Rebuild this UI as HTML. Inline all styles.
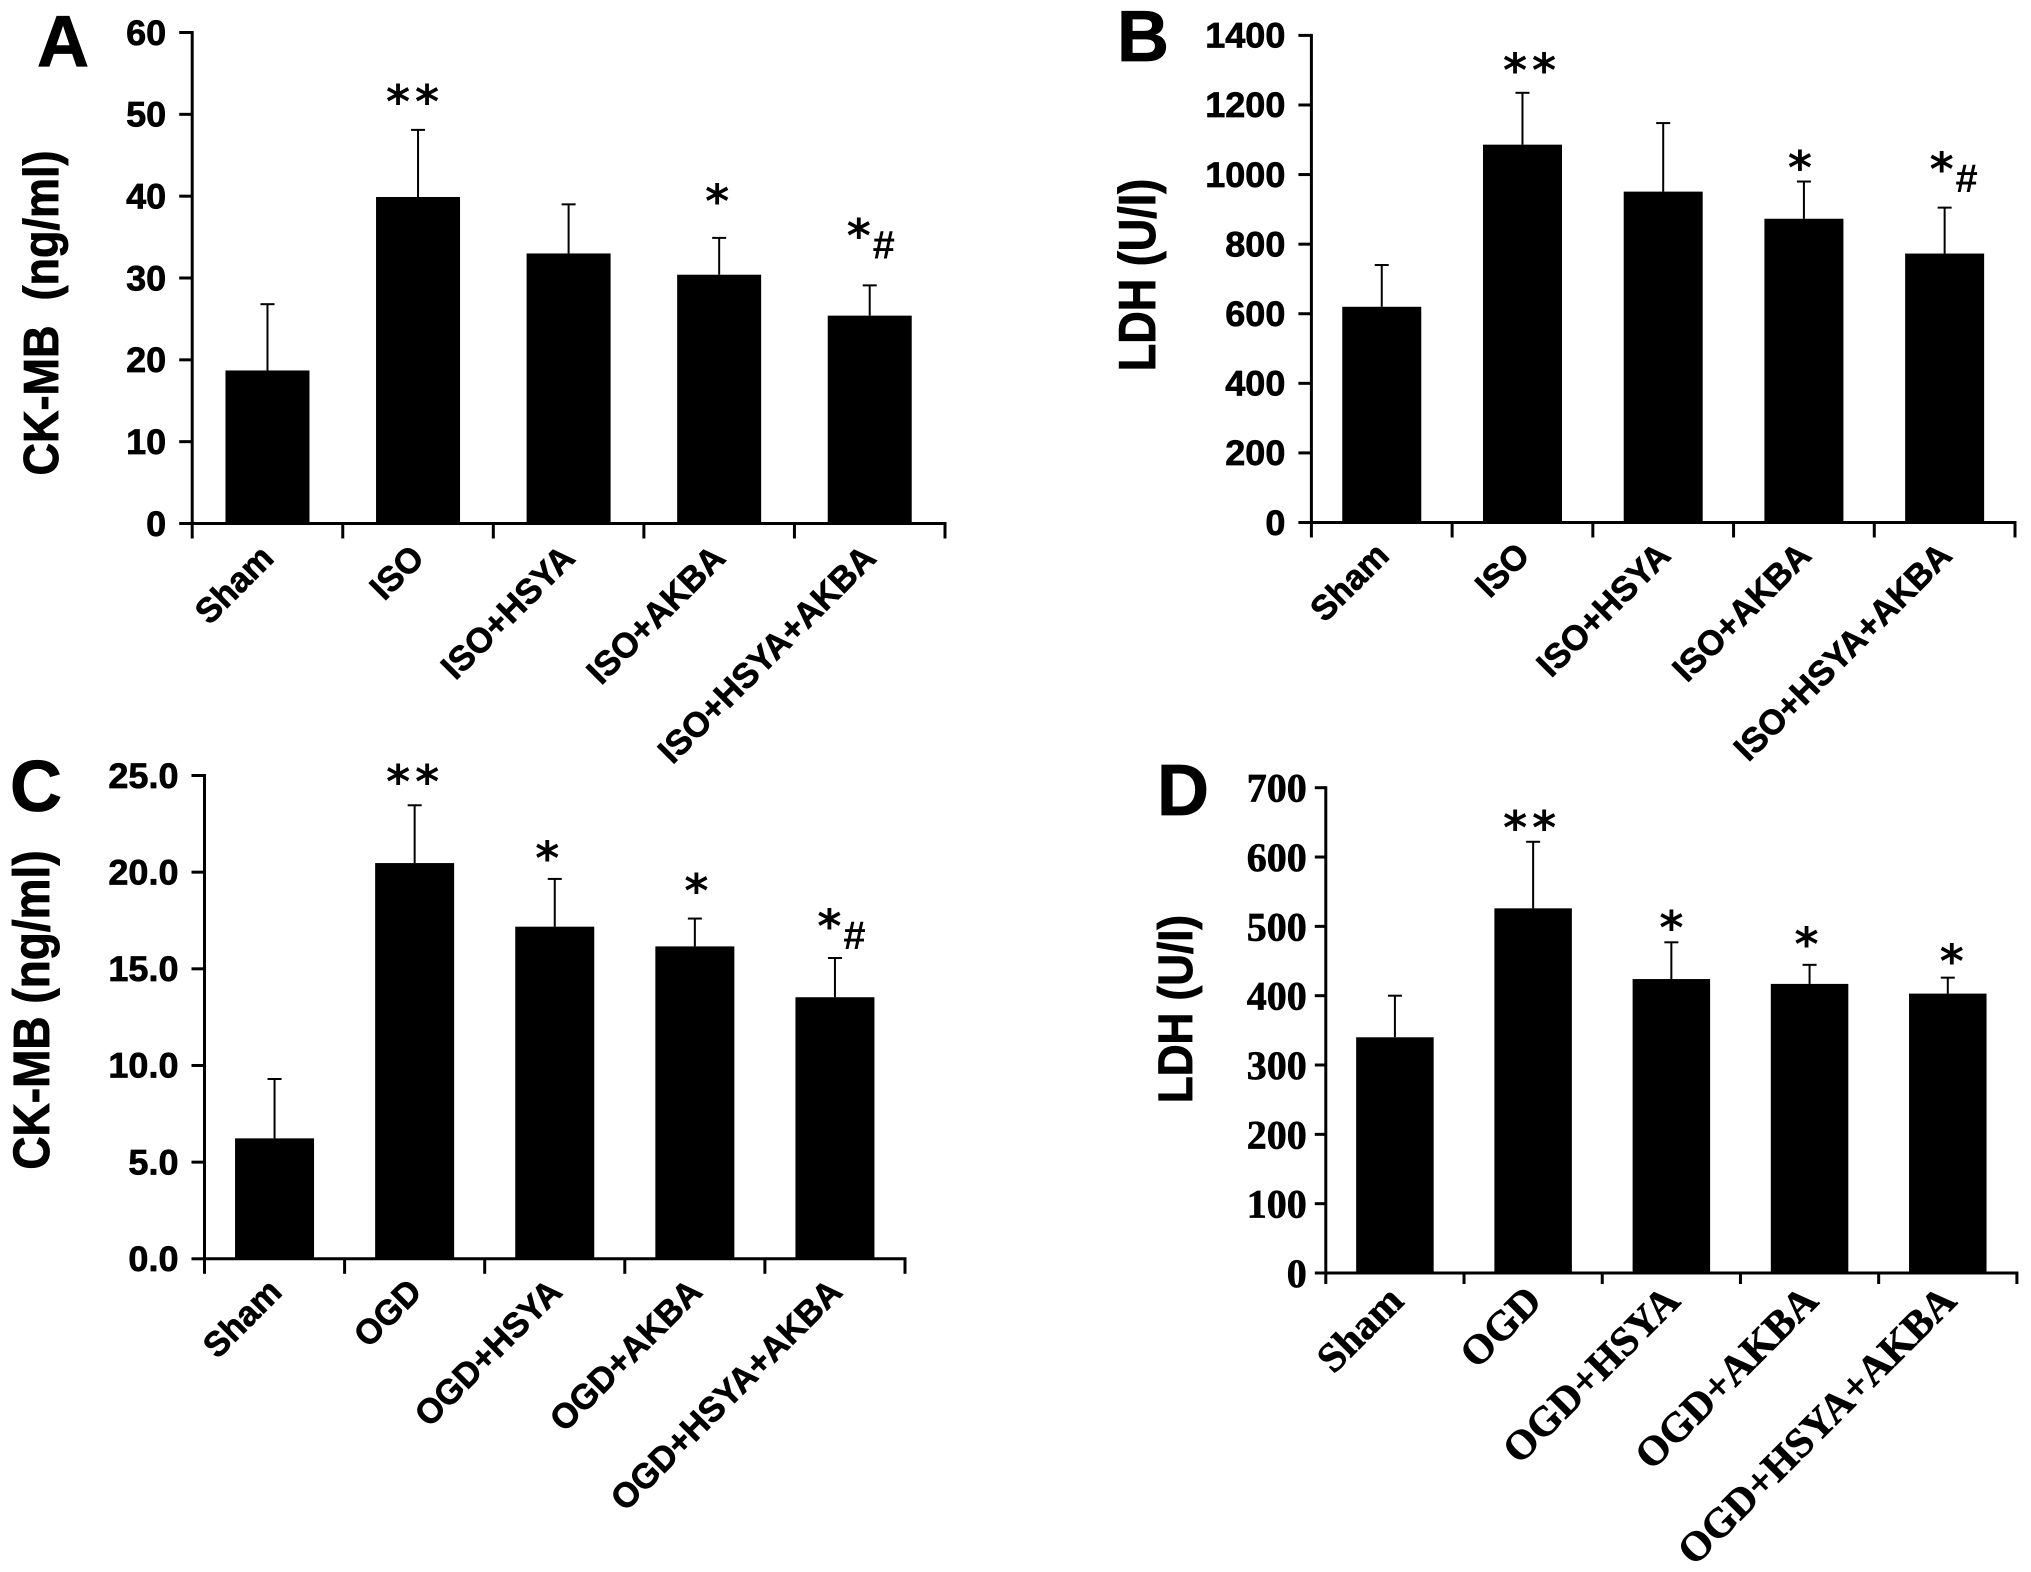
<!DOCTYPE html>
<html lang="en">
<head>
<meta charset="utf-8">
<title>CK-MB and LDH levels</title>
<style>
html,body{margin:0;padding:0;background:#fff;}
svg{display:block;}
.title{font-family:"Liberation Sans",sans-serif;font-weight:700;fill:#000;stroke:#000;stroke-width:0.8px;}
.letter{font-family:"Liberation Sans",sans-serif;font-weight:700;font-size:72px;fill:#000;stroke:#000;stroke-width:0.8px;}
</style>
</head>
<body>
<svg id="figure" xmlns="http://www.w3.org/2000/svg" width="2031" height="1572" viewBox="0 0 2031 1572">
  <rect x="0" y="0" width="2031" height="1572" fill="#fff"/>
  <text class="letter" x="37" y="66">A</text>
  <text class="letter" x="1117" y="61">B</text>
  <text class="letter" x="10" y="811">C</text>
  <text class="letter" x="1157" y="815">D</text>
  <text class="title" font-size="45" text-anchor="middle" xml:space="preserve" transform="translate(58,313) rotate(-90) scale(1,1.1)">CK-MB&#160;&#160;(ng/ml)</text>
  <text class="title" font-size="45" text-anchor="middle" transform="translate(1155,275) rotate(-90) scale(1,1.15)">LDH (U/I)</text>
  <text class="title" font-size="46" text-anchor="middle" transform="translate(49,1010) rotate(-90) scale(1,1.1)">CK-MB (ng/ml)</text>
  <text class="title" font-size="44" text-anchor="middle" transform="translate(1192,1009) rotate(-90) scale(1,1.1)">LDH (U/I)</text>
</svg>
<script>
// Panel A data
const categoriesA = ['Sham', 'ISO', 'ISO+HSYA', 'ISO+AKBA', 'ISO+HSYA+AKBA'];
const meansA = [18.7, 39.9, 33, 30.4, 25.4];
const upperA = [26.8, 48.1, 39, 34.9, 29.1];
const ticksA = [0, 10, 20, 30, 40, 50, 60];
const tickLabelsA = ['0', '10', '20', '30', '40', '50', '60'];
const marksA = ['', '**', '', '*', '*#'];

// Panel B data
const categoriesB = ['Sham', 'ISO', 'ISO+HSYA', 'ISO+AKBA', 'ISO+HSYA+AKBA'];
const meansB = [620, 1086, 951, 873, 773];
const upperB = [740, 1235, 1148, 980, 905];
const ticksB = [0, 200, 400, 600, 800, 1000, 1200, 1400];
const tickLabelsB = ['0', '200', '400', '600', '800', '1000', '1200', '1400'];
const marksB = ['', '**', '', '*', '*#'];

// Panel C data
const categoriesC = ['Sham', 'OGD', 'OGD+HSYA', 'OGD+AKBA', 'OGD+HSYA+AKBA'];
const meansC = [6.23, 20.47, 17.18, 16.16, 13.53];
const upperC = [9.3, 23.46, 19.65, 17.6, 15.56];
const ticksC = [0, 5, 10, 15, 20, 25];
const tickLabelsC = ['0.0', '5.0', '10.0', '15.0', '20.0', '25.0'];
const marksC = ['', '**', '*', '*', '*#'];

// Panel D data
const categoriesD = ['Sham', 'OGD', 'OGD+HSYA', 'OGD+AKBA', 'OGD+HSYA+AKBA'];
const meansD = [340, 526, 424, 417, 403];
const upperD = [400, 622, 477, 444.5, 426];
const ticksD = [0, 100, 200, 300, 400, 500, 600, 700];
const tickLabelsD = ['0', '100', '200', '300', '400', '500', '600', '700'];
const marksD = ['', '**', '*', '*', '*'];

const NS = 'http://www.w3.org/2000/svg';
const figure = document.getElementById('figure');

function make(tag, attrs, parent) {
  const node = document.createElementNS(NS, tag);
  for (const k in attrs) node.setAttribute(k, attrs[k]);
  parent.appendChild(node);
  return node;
}

function drawPanel(p) {
  const group = make('g', {}, figure);
  
  

  const maxTick = p.ticks[p.ticks.length - 1];
  const yScale = v => p.base - (v / maxTick) * (p.base - p.top);
  const step = (p.right - p.left) / p.categories.length;
  const xCenter = i => p.left + step * (i + 0.5);

  // bars and error bars
  p.categories.forEach((cat, i) => {
    const bar = make('rect', {
      x: xCenter(i) - p.barWidth / 2,
      y: yScale(p.means[i]),
      width: p.barWidth,
      height: p.base - yScale(p.means[i]),
      fill: '#000'
    }, group);
    
    

    const stem = make('line', {
      x1: xCenter(i), x2: xCenter(i),
      y1: yScale(p.means[i]), y2: yScale(p.upper[i]),
      stroke: '#000', 'stroke-width': 2
    }, group);
    
    

    const cap = make('line', {
      x1: xCenter(i) - 7, x2: xCenter(i) + 7,
      y1: yScale(p.upper[i]), y2: yScale(p.upper[i]),
      stroke: '#000', 'stroke-width': 2
    }, group);
    
    
  });

  // axes
  const yAxis = make('line', {
    x1: p.left, x2: p.left, y1: p.top - 1.5, y2: p.base + 1.5,
    stroke: '#000', 'stroke-width': 3
  }, group);
  
  

  const xAxis = make('line', {
    x1: p.left, x2: p.right + 1.5, y1: p.base, y2: p.base,
    stroke: '#000', 'stroke-width': 3
  }, group);
  
  

  // y ticks and labels
  p.ticks.forEach((t, i) => {
    const tick = make('line', {
      x1: p.left - p.yTickLen, x2: p.left, y1: yScale(t), y2: yScale(t),
      stroke: '#000', 'stroke-width': 3
    }, group);
    
    

    const label = make('text', {
      transform: 'translate(' + (p.left - p.tickGap) + ',' + (yScale(t) + p.tickFont * 0.35) + ') scale(' + p.tickScale + ',1)',
      'text-anchor': 'end',
      'font-family': p.family,
      'font-weight': 700,
      'font-size': p.tickFont,
      fill: '#000',
      stroke: '#000',
      'stroke-width': 0.7
    }, group);
    label.textContent = p.tickLabels[i];
    
    
  });

  // x ticks
  for (let i = 0; i <= p.categories.length; i++) {
    const tick = make('line', {
      x1: p.left + step * i, x2: p.left + step * i, y1: p.base, y2: p.base + p.xTickLen,
      stroke: '#000', 'stroke-width': 3
    }, group);
    
    
  }

  // category labels
  p.categories.forEach((cat, i) => {
    const label = make('text', {
      transform: 'translate(' + (xCenter(i) + p.labelDx) + ',' + (p.base + p.labelDy) + ') rotate(-45) scale(' + p.labelScale + ',1)',
      'text-anchor': 'end',
      'font-family': p.family,
      'font-weight': 700,
      'font-size': p.labelFont,
      fill: '#000',
      stroke: '#000',
      'stroke-width': 0.7
    }, group);
    label.textContent = cat;
    
    
  });

  // significance marks
  p.marks.forEach((mark, i) => {
    if (!mark) return;
    const cy = yScale(p.upper[i]) - p.markGap[i];
    const cx = xCenter(i) + p.markDx[i];
    const stars = mark.replace('#', '').length;
    for (let s = 0; s < stars; s++) {
      const sx = cx + (s - (stars - 1) / 2) * 29;
      const star = make('text', {
        x: sx, y: cy + 46 * 0.51,
        'text-anchor': 'middle',
        'font-family': '"DejaVu Sans", sans-serif',
        'font-weight': 700,
        'font-size': 46,
        fill: '#000'
      }, group);
      star.textContent = '*';
      
      
    }
    if (mark.indexOf('#') >= 0) {
      const hash = make('text', {
        x: cx + 25, y: cy + 30,
        'text-anchor': 'middle',
        'font-family': '"Liberation Sans", sans-serif',
        'font-weight': 700,
        'font-size': 40,
        fill: '#000'
      }, group);
      hash.textContent = '#';
      
      
    }
  });
}

const SANS = '"Liberation Sans", sans-serif';
const SERIF = '"Liberation Serif", serif';

drawPanel({
  id: 'a', categories: categoriesA, means: meansA, upper: upperA, ticks: ticksA, tickLabels: tickLabelsA, marks: marksA,
  left: 192.2, right: 945, top: 32.5, base: 523.5, barWidth: 84,
  family: SANS, tickFont: 35, tickScale: 1.03, tickGap: 26, yTickLen: 13, xTickLen: 15,
  labelFont: 35, labelScale: 0.98, labelDx: 8, labelDy: 36.5,
  markDx: [0, -5.5, 0, -2, -11], markGap: [0, 35.5, 0, 44, 57]
});
drawPanel({
  id: 'b', categories: categoriesB, means: meansB, upper: upperB, ticks: ticksB, tickLabels: tickLabelsB, marks: marksB,
  left: 1311.4, right: 2015, top: 35.4, base: 522.5, barWidth: 79,
  family: SANS, tickFont: 35, tickScale: 1.03, tickGap: 26, yTickLen: 13, xTickLen: 15,
  labelFont: 35, labelScale: 0.98, labelDx: 9, labelDy: 35,
  markDx: [0, 7, 0, -4, -3], markGap: [0, 29.6, 0, 21, 45.5]
});
drawPanel({
  id: 'c', categories: categoriesC, means: meansC, upper: upperC, ticks: ticksC, tickLabels: tickLabelsC, marks: marksC,
  left: 204.5, right: 905, top: 775.5, base: 1258.8, barWidth: 79,
  family: SANS, tickFont: 35, tickScale: 1.03, tickGap: 26, yTickLen: 13, xTickLen: 15,
  labelFont: 35, labelScale: 0.98, labelDx: 9, labelDy: 35,
  markDx: [0, -2, -7.5, 1.5, -5.5], markGap: [0, 30.5, 28, 35, 39]
});
drawPanel({
  id: 'd', categories: categoriesD, means: meansD, upper: upperD, ticks: ticksD, tickLabels: tickLabelsD, marks: marksD,
  left: 1325.8, right: 2016.9, top: 787.7, base: 1273, barWidth: 77.5,
  family: SERIF, tickFont: 40, tickScale: 1, tickGap: 19, yTickLen: 11, xTickLen: 11,
  labelFont: 41.5, labelScale: 1, labelDx: 10.5, labelDy: 30,
  markDx: [0, -3.5, 0, -3, 4], markGap: [0, 21, 21.7, 28, 23.7]
});
</script>
</body>
</html>
